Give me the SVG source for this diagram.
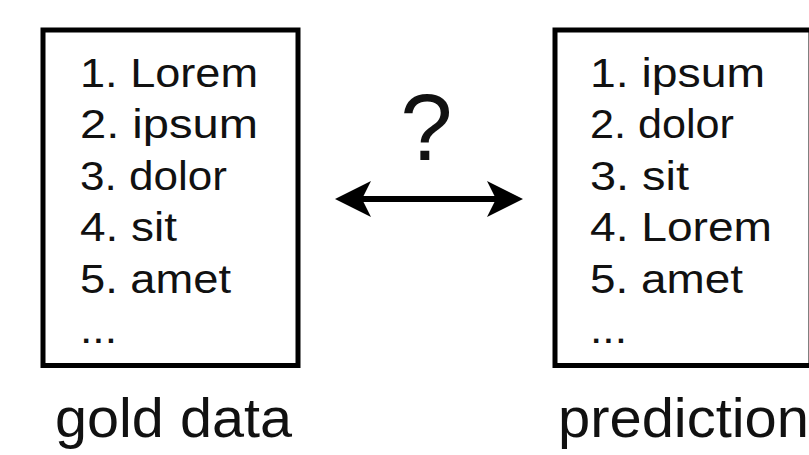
<svg xmlns="http://www.w3.org/2000/svg" width="809" height="455" viewBox="0 0 809 455">
  <style>
    .box { fill: #ffffff; stroke: #000000; stroke-width: 5; }
    .item { font-family: "Liberation Sans", Arial, sans-serif; font-size: 40px; fill: #111111; }
    .caption { font-family: "Liberation Sans", Arial, sans-serif; font-size: 55px; fill: #111111; }
    .query { font-family: "Liberation Sans", Arial, sans-serif; font-size: 94px; fill: #111111; text-anchor: middle; }
    .link { stroke: #000000; stroke-width: 6; fill: none; }
    .head { fill: #000000; }
  </style>
  <rect width="809" height="455" fill="#ffffff"/>

  <!-- ranked list: reference ordering -->
  <g id="gold">
    <rect class="box" x="43" y="30" width="255" height="335.5"/>
    <text class="item" x="80" y="86.5" textLength="178" lengthAdjust="spacingAndGlyphs">1. Lorem</text>
    <text class="item" x="80" y="138" textLength="178" lengthAdjust="spacingAndGlyphs">2. ipsum</text>
    <text class="item" x="80" y="189.5" textLength="147" lengthAdjust="spacingAndGlyphs">3. dolor</text>
    <text class="item" x="80" y="241" textLength="97" lengthAdjust="spacingAndGlyphs">4. sit</text>
    <text class="item" x="80" y="293" textLength="151" lengthAdjust="spacingAndGlyphs">5. amet</text>
    <text class="item" x="80" y="343" textLength="37" lengthAdjust="spacingAndGlyphs">...</text>
    <text class="caption" x="55" y="437" textLength="237" lengthAdjust="spacingAndGlyphs">gold data</text>
  </g>

  <!-- ranked list: predicted ordering -->
  <g id="prediction">
    <rect class="box" x="555" y="30" width="256" height="335.5"/>
    <text class="item" x="590" y="86.5" textLength="175" lengthAdjust="spacingAndGlyphs">1. ipsum</text>
    <text class="item" x="590" y="138" textLength="144" lengthAdjust="spacingAndGlyphs">2. dolor</text>
    <text class="item" x="590" y="189.5" textLength="99" lengthAdjust="spacingAndGlyphs">3. sit</text>
    <text class="item" x="590" y="241" textLength="182" lengthAdjust="spacingAndGlyphs">4. Lorem</text>
    <text class="item" x="590" y="293" textLength="153" lengthAdjust="spacingAndGlyphs">5. amet</text>
    <text class="item" x="590" y="343" textLength="37" lengthAdjust="spacingAndGlyphs">...</text>
    <text class="caption" x="558" y="437" textLength="251" lengthAdjust="spacingAndGlyphs">prediction</text>
  </g>

  <!-- comparison connector -->
  <g id="connectors">
    <line class="link" x1="362" y1="199" x2="496" y2="199"/>
    <polygon class="head" points="335,199 371,181 362,199 371,217"/>
    <polygon class="head" points="523,199 487,181 496,199 487,217"/>
    <text class="query" x="426.5" y="160">?</text>
  </g>
</svg>
